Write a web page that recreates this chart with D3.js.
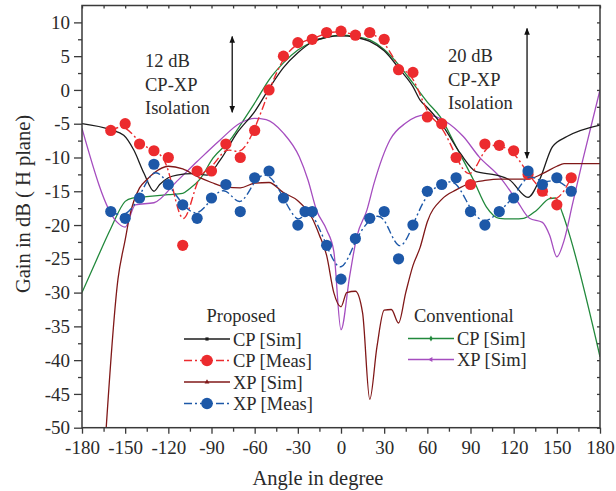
<!DOCTYPE html>
<html>
<head>
<meta charset="utf-8">
<script src="https://cdn.jsdelivr.net/npm/d3@7"></script>
<style>
  html, body { margin: 0; padding: 0; background: #fff; }
  svg { display: block; font-family: "Liberation Serif", "DejaVu Serif", serif; }
</style>
</head>
<body>
<svg id="chart" width="616" height="491"></svg>
<script>
// ---------------- data ----------------
const xTickValues = [-180, -150, -120, -90, -60, -30, 0, 30, 60, 90, 120, 150, 180];
const yTickValues = [-50, -45, -40, -35, -30, -25, -20, -15, -10, -5, 0, 5, 10];

// Proposed CP [Sim]
const cpSimAngle = [-180,-160,-151,-144,-137,-130,-126,-120,-114,-103,-93,-84,-72,-60,-50,-40,-30,-20,-10,0,10,20,30,41,50,55,60,71,83,94,108,117,130,138,147,157,180];
const cpSimGain  = [-5,-5.9,-6.7,-8.9,-12.3,-15,-14,-13,-12.6,-12.4,-12.6,-10.4,-6.3,-3.2,0.2,3.3,5.5,7.1,7.8,8,7.8,7.2,5.8,3,0.5,-1.5,-2.6,-5.4,-9.4,-12.1,-12.6,-13.3,-15.9,-13.3,-8.4,-6.9,-5.2];

// Proposed CP [Meas]
const cpMeasAngle = [-160,-150,-140,-130,-120,-110,-100,-90,-80,-70,-60,-50,-40,-30,-20,-10,0,10,20,30,40,50,60,70,80,90,100,110,120,130,140,150,160];
const cpMeasGain  = [-6,-5,-8,-9,-10,-23,-12,-12,-8,-10,-6,0,5,7,7.5,8.5,8.7,8.1,8.5,7.5,3,2.6,-4,-5,-10,-14,-8,-8.2,-9,-12.5,-15,-17,-13];

// Proposed XP [Sim]
const xpSimAngle = [-165,-155,-150,-147,-140,-135,-130,-120,-110,-100,-90,-80,-70,-60,-50,-40,-30,-20,-15,-10,-5,0,4,10,15,20,25,30,35,40,45,50,55,60,70,80,90,100,110,120,130,140,150,155,180];
const xpSimGain  = [-56,-28,-22.2,-18.8,-14.5,-13.3,-12.3,-11.3,-11.7,-12.8,-13.7,-14.4,-14.5,-13.8,-13.7,-15.2,-16.4,-19,-21.5,-24.5,-30,-32.1,-30,-29.8,-33,-45.8,-38,-32.6,-32.5,-34.5,-30,-26,-23.3,-19.5,-16.2,-14.8,-13.8,-13.4,-13.2,-13.2,-13.2,-12.4,-11.3,-10.9,-10.9];

// Proposed XP [Meas]
const xpMeasAngle = [-160,-150,-140,-130,-120,-110,-100,-90,-80,-70,-60,-50,-40,-30,-25,-20,-10,0,10,20,30,40,50,60,70,80,90,100,110,120,130,140,150,160];
const xpMeasGain  = [-18,-19,-16,-11,-14,-17,-19,-16,-14,-18,-13,-12,-16,-20,-18,-18,-23,-28,-22,-19,-18,-25,-20,-15,-14,-13,-18,-20,-18,-16,-12,-14,-13,-15];

// Conventional CP [Sim]
const convCpAngle = [-180,-170,-160,-150,-145,-135,-120,-110,-105,-98,-89,-77,-66,-59,-50,-40,-30,-20,-10,0,10,20,30,41,50,60,69,80,92,101,110,120,127,136,145,149,154,157,180];
const convCpGain  = [-30,-25.2,-20.5,-16.5,-16,-15.8,-15.5,-15.3,-14.6,-13.2,-10.1,-7.4,-3.9,-1.6,1.5,4,5.9,7.1,7.8,8.1,7.9,7.4,6,3.5,1,-1.8,-4,-8.4,-13.3,-17.3,-19,-19.1,-19,-17.8,-16.1,-16,-18.3,-20.2,-39.5];

// Conventional XP [Sim]
const convXpAngle = [-180,-156,-150,-143,-130,-114,-100,-84,-70,-60,-52,-40,-29,-23,-17,-10,-5,0,6,11,18,23,34,45,59,73,85,96,110,122,131,140,145,150,155,161,168,180];
const convXpGain  = [-5.7,-19.5,-20.3,-17,-16.7,-13.5,-10.6,-7.4,-4.9,-4.2,-4.4,-6.4,-9.9,-13.3,-17.8,-20.7,-23.9,-35.5,-27.6,-21.7,-17.8,-13.8,-7.4,-4.9,-3.7,-4.7,-6.9,-9.9,-12.8,-16.3,-19,-19.6,-21.5,-24.7,-22.3,-16.8,-10.4,0];

// Isolation arrows (angle, top gain, bottom gain)
const arrowAngle = [-75.6, 129.3];
const arrowTop   = [7.9, 9.1];
const arrowBot   = [-3.3, -10.1];

// ---------------- chart ----------------
const svg = d3.select("#chart");
const L = 82, R = 600, T = 5.5, B = 427.7;
const x = d3.scaleLinear().domain([-180, 180]).range([L, R]);
const y = d3.scaleLinear().domain([-50, 12.5]).range([B, T]);

const axisColor = "#3a3a3a";
const textColor = "#2a2a2a";

svg.append("defs").append("clipPath").attr("id", "plotclip")
  .append("rect").attr("x", L).attr("y", T).attr("width", R - L).attr("height", B - T);

const zip = (a, b) => a.map((v, i) => [v, b[i]]);

const plot = svg.append("g").attr("clip-path", "url(#plotclip)");

function drawLine(data, color, curve, dash, width) {
  const gen = d3.line().x(d => x(d[0])).y(d => y(d[1])).curve(curve);
  plot.append("path").datum(data)
    .attr("d", gen).attr("fill", "none")
    .attr("stroke", color).attr("stroke-width", width || 1.3)
    .attr("stroke-dasharray", dash || null)
    .attr("stroke-linejoin", "round");
}
function drawDots(data, color) {
  plot.append("g").selectAll("circle").data(data).join("circle")
    .attr("cx", d => x(d[0])).attr("cy", d => y(d[1])).attr("r", 5.6)
    .attr("fill", color);
}

const cGreen = "#22893c", cPurple = "#a54dbf", cBlack = "#1c1c1c",
      cDark = "#801818", cRed = "#ec2b2e", cBlue = "#1d58a8";
const dashDot = "8,3,2,3";

drawLine(zip(convCpAngle, convCpGain), cGreen, d3.curveMonotoneX);
drawLine(zip(convXpAngle, convXpGain), cPurple, d3.curveMonotoneX);
drawLine(zip(cpSimAngle, cpSimGain), cBlack, d3.curveMonotoneX);
drawLine(zip(xpSimAngle, xpSimGain), cDark, d3.curveMonotoneX);
drawLine(zip(cpMeasAngle, cpMeasGain), cRed, d3.curveBasis, dashDot, 1.4);
drawDots(zip(cpMeasAngle, cpMeasGain), cRed);
drawLine(zip(xpMeasAngle, xpMeasGain), cBlue, d3.curveBasis, dashDot, 1.4);
drawDots(zip(xpMeasAngle, xpMeasGain), cBlue);

// ---------------- axes ----------------
const minorY = d3.range(-47.5, 12.5, 5);
const minorX = d3.range(-165, 180, 30);
const allX15 = d3.range(-180, 181, 15);
const allY25 = d3.range(-50, 12.5, 2.5);

function styleAxis(g) {
  g.select(".domain").remove();
  g.selectAll(".tick line").attr("stroke", axisColor).attr("stroke-width", 1.3);
  g.selectAll(".tick text").attr("fill", textColor)
    .style("font-family", '"Liberation Serif", serif').style("font-size", "19px");
}

svg.append("g").attr("transform", `translate(${L},0)`)
  .call(d3.axisLeft(y).tickValues(yTickValues).tickSize(8).tickPadding(4).tickFormat(d3.format("d")))
  .call(styleAxis);
svg.append("g").attr("transform", `translate(${L},0)`)
  .call(d3.axisLeft(y).tickValues(minorY).tickSize(4).tickFormat(""))
  .call(styleAxis);
svg.append("g").attr("transform", `translate(0,${B})`)
  .call(d3.axisBottom(x).tickValues(xTickValues).tickSize(6).tickPadding(7).tickFormat(d3.format("d")))
  .call(styleAxis);
svg.append("g").attr("transform", `translate(0,${B})`)
  .call(d3.axisBottom(x).tickValues(minorX).tickSize(4).tickFormat(""))
  .call(styleAxis);
svg.append("g").attr("transform", `translate(0,${T})`)
  .call(d3.axisTop(x).tickValues(allX15).tickSize(-3).tickFormat(""))
  .call(styleAxis);
svg.append("g").attr("transform", `translate(${R},0)`)
  .call(d3.axisRight(y).tickValues(allY25).tickSize(-3).tickFormat(""))
  .call(styleAxis);

// hyphen-minus labels like the original
svg.selectAll(".tick text").text(function() { return d3.select(this).text().replace("\u2212", "-"); });

// frame
svg.append("rect").attr("x", L).attr("y", T).attr("width", R - L).attr("height", B - T)
  .attr("fill", "none").attr("stroke", axisColor).attr("stroke-width", 1.5);

// axis titles
svg.append("text").attr("x", 318).attr("y", 485).attr("text-anchor", "middle")
  .attr("fill", textColor).style("font-size", "20.5px").text("Angle in degree");
svg.append("text").attr("transform", "translate(30,204) rotate(-90)").attr("text-anchor", "middle")
  .attr("fill", textColor).style("font-size", "20.5px").text("Gain in dB ( H plane)");

// ---------------- annotations ----------------
const defs = svg.select("defs");
defs.append("marker").attr("id", "ah").attr("viewBox", "0 0 10 10")
  .attr("refX", 9).attr("refY", 5).attr("markerWidth", 7).attr("markerHeight", 7)
  .attr("markerUnits", "userSpaceOnUse").attr("orient", "auto-start-reverse")
  .append("path").attr("d", "M0,1 L10,5 L0,9 Z").attr("fill", "#111");

arrowAngle.forEach((a, i) => {
  svg.append("line")
    .attr("x1", x(a)).attr("x2", x(a)).attr("y1", y(arrowTop[i])).attr("y2", y(arrowBot[i]))
    .attr("stroke", "#111").attr("stroke-width", 1.3)
    .attr("marker-start", "url(#ah)").attr("marker-end", "url(#ah)");
});

const annoL = ["12 dB", "CP-XP", "Isolation"];
const annoR = ["20 dB", "CP-XP", "Isolation"];
const annoLY = [67, 91, 114];
const annoRY = [62, 86, 109];
annoL.forEach((t, i) => svg.append("text").attr("x", 145).attr("y", annoLY[i])
  .attr("fill", textColor).style("font-size", "18.5px").text(t));
annoR.forEach((t, i) => svg.append("text").attr("x", 448).attr("y", annoRY[i])
  .attr("fill", textColor).style("font-size", "18.5px").text(t));

// ---------------- legend ----------------
const legFont = "18.5px";
svg.append("text").attr("x", 241).attr("y", 322).attr("text-anchor", "middle")
  .attr("fill", textColor).style("font-size", legFont).text("Proposed");
svg.append("text").attr("x", 414).attr("y", 322)
  .attr("fill", textColor).style("font-size", legFont).text("Conventional");

const legP = [
  {label: "CP [Sim]",  color: cBlack, dash: null,    mark: "square"},
  {label: "CP [Meas]", color: cRed,   dash: dashDot, mark: "circle"},
  {label: "XP [Sim]",  color: cDark,  dash: null,    mark: "triangle"},
  {label: "XP [Meas]", color: cBlue,  dash: dashDot, mark: "circle"}
];
const legC = [
  {label: "CP [Sim]", color: cGreen,  dash: null, mark: "diamond"},
  {label: "XP [Sim]", color: cPurple, dash: null, mark: "left"}
];

function legendRow(item, x0, x1, yy) {
  const g = svg.append("g");
  g.append("line").attr("x1", x0).attr("x2", x1).attr("y1", yy).attr("y2", yy)
    .attr("stroke", item.color).attr("stroke-width", 1.4).attr("stroke-dasharray", item.dash);
  const cx = (x0 + x1) / 2;
  if (item.mark === "circle") {
    g.append("circle").attr("cx", cx).attr("cy", yy).attr("r", 5.8).attr("fill", item.color);
  } else {
    const sym = {square: d3.symbolSquare, triangle: d3.symbolTriangle, diamond: d3.symbolDiamond, left: d3.symbolTriangle}[item.mark];
    g.append("path").attr("d", d3.symbol().type(sym).size(10)())
      .attr("transform", `translate(${cx},${yy})` + (item.mark === "left" ? " rotate(-90)" : ""))
      .attr("fill", item.color);
  }
  g.append("text").attr("x", x1 + 3).attr("y", yy + 6.5)
    .attr("fill", textColor).style("font-size", legFont).text(item.label);
}
const legPY = [339, 360.5, 382, 403.5];
legP.forEach((d, i) => legendRow(d, 184, 230, legPY[i]));
const legCY = [338.5, 359.5];
legC.forEach((d, i) => legendRow(d, 408, 454, legCY[i]));
</script>
</body>
</html>
